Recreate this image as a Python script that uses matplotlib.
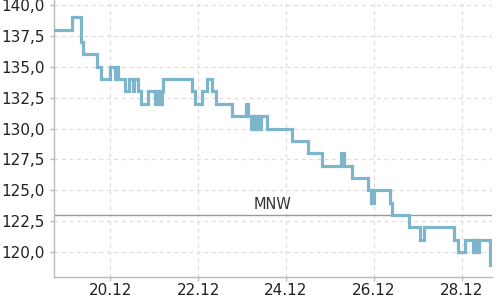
import matplotlib
matplotlib.use("Agg")
import matplotlib.pyplot as plt
import matplotlib.dates as mdates
import matplotlib.ticker as mticker
import pandas as pd

times = [
    "2023-12-18 17:00", "2023-12-19 03:00", "2023-12-19 08:00", "2023-12-19 09:00",
    "2023-12-19 17:00", "2023-12-19 19:00", "2023-12-20 00:00", "2023-12-20 02:30",
    "2023-12-20 03:00", "2023-12-20 04:00", "2023-12-20 08:00", "2023-12-20 10:00",
    "2023-12-20 12:30", "2023-12-20 13:00", "2023-12-20 15:00", "2023-12-20 17:00",
    "2023-12-20 20:30", "2023-12-21 00:30", "2023-12-21 01:30", "2023-12-21 02:00",
    "2023-12-21 03:00", "2023-12-21 03:30", "2023-12-21 04:00", "2023-12-21 05:00",
    "2023-12-21 20:45", "2023-12-21 22:30", "2023-12-22 02:00", "2023-12-22 05:00",
    "2023-12-22 07:30", "2023-12-22 10:00", "2023-12-22 18:30", "2023-12-23 02:15",
    "2023-12-23 03:30", "2023-12-23 05:00", "2023-12-23 06:00", "2023-12-23 06:45",
    "2023-12-23 07:30", "2023-12-23 08:15", "2023-12-23 09:00", "2023-12-23 09:45",
    "2023-12-23 10:30", "2023-12-23 13:30", "2023-12-24 03:20", "2023-12-24 11:50",
    "2023-12-24 19:40", "2023-12-25 06:00", "2023-12-25 07:30", "2023-12-25 12:00",
    "2023-12-25 21:00", "2023-12-25 22:30", "2023-12-26 00:15", "2023-12-26 09:00",
    "2023-12-26 10:00", "2023-12-26 19:00", "2023-12-27 01:00", "2023-12-27 03:30",
    "2023-12-27 19:30", "2023-12-27 21:40", "2023-12-28 01:30", "2023-12-28 06:20",
    "2023-12-28 07:00", "2023-12-28 07:40", "2023-12-28 08:20", "2023-12-28 09:00",
    "2023-12-28 09:40", "2023-12-28 15:30", "2023-12-28 16:30",
]
levels = [
    138, 139, 137, 136,
    135, 134, 135, 134,
    135, 134, 133, 134,
    133, 134, 133, 132,
    133, 132, 133, 132,
    133, 132, 133, 134,
    133, 132, 133, 134,
    133, 132, 131, 132,
    131, 130, 131, 130,
    131, 130, 131, 130,
    131, 130, 129, 128,
    127, 128, 127, 126,
    125, 124, 125, 124,
    123, 122, 121, 122,
    121, 120, 121, 120,
    121, 120, 121, 120,
    121, 119, 119,
]
mnw_value = 123.0
mnw_label = "MNW"
y_ticks = [120.0, 122.5, 125.0, 127.5, 130.0, 132.5, 135.0, 137.5, 140.0]
x_ticks = ["2023-12-20", "2023-12-22", "2023-12-24", "2023-12-26", "2023-12-28"]

t = pd.to_datetime(times)

fig = plt.figure(figsize=(5, 3), dpi=100)
ax = fig.add_axes([0.107, 0.077, 0.877, 0.923])

ax.plot(t, levels, drawstyle="steps-post", color="#7db5cd", linewidth=2.3,
        solid_joinstyle="miter", zorder=3)
ax.axhline(mnw_value, color="#999999", linewidth=1.0, zorder=2)
ax.annotate(mnw_label, xy=(0.5, mnw_value), xycoords=("axes fraction", "data"),
            xytext=(0, 2), textcoords="offset points", ha="center", va="bottom",
            fontsize=10.5, color="#333333")

ax.set_xlim(t[0], t[-1])
ax.set_ylim(118.0, 140.4)
ax.set_yticks(y_ticks)
ax.yaxis.set_major_formatter(mticker.FuncFormatter(lambda v, p: f"{v:.1f}".replace(".", ",")))
ax.set_xticks(pd.to_datetime(x_ticks))
ax.xaxis.set_major_formatter(mdates.DateFormatter("%d.%m"))

ax.grid(True, color="#dddddd", linestyle=(0, (3, 3)), linewidth=0.9, zorder=0)
for s in ["top", "right"]:
    ax.spines[s].set_visible(False)
for s in ["left", "bottom"]:
    ax.spines[s].set_color("#bbbbbb")
    ax.spines[s].set_linewidth(1.0)
ax.tick_params(axis="both", colors="#bbbbbb", labelcolor="#222222", labelsize=11,
               length=3, width=1)
ax.tick_params(axis="x", pad=1.5)
ax.tick_params(axis="y", pad=3)

fig.savefig("out.png", dpi=100)
